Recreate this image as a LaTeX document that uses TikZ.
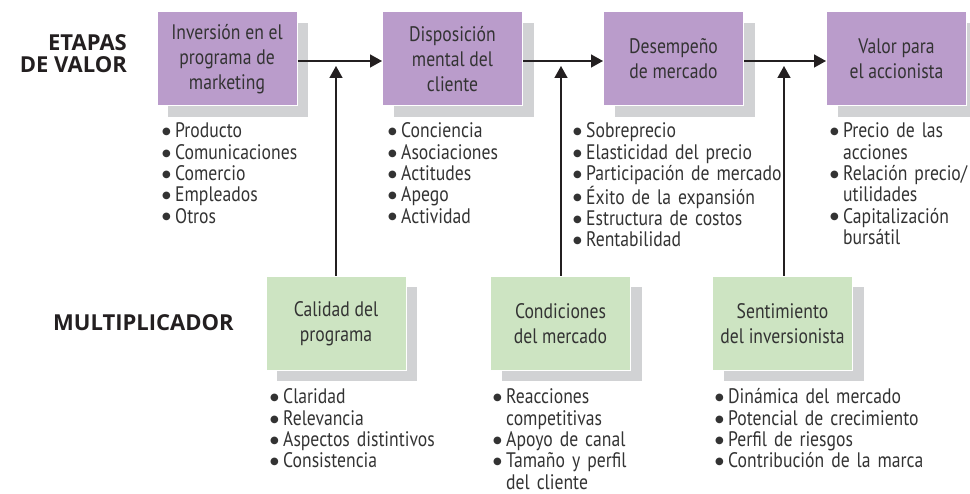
\documentclass[tikz,border=0pt]{standalone}
\usepackage{fontspec}
\setmainfont{PT Sans}[FakeStretch=0.84]
\newfontfamily\labfont{Open Sans}
\newfontfamily\dvfont{DejaVu Sans}
\usetikzlibrary{shadows,arrows.meta}
\definecolor{purp}{HTML}{BA9CCB}
\definecolor{grn}{HTML}{CDE4C2}
\definecolor{shd}{HTML}{D1D2D4}
\definecolor{txt}{HTML}{333333}
\definecolor{ink}{HTML}{231F20}
\newcommand{\bul}{\makebox[13pt][l]{\raisebox{3.2pt}{\dvfont\fontsize{10}{10}\selectfont ●}}}
\newcommand{\ind}{\hspace*{13pt}}
\tikzset{
  stagebox/.style={rectangle, minimum width=140pt, minimum height=94pt, draw=white, line width=1pt,
    general shadow={fill=shd, shadow xshift=11pt, shadow yshift=-11pt},
    align=center, text=txt, font=\fontsize{21}{25}\selectfont, inner sep=2pt},
  topbox/.style={stagebox, fill=purp},
  botbox/.style={stagebox, fill=grn},
  listtext/.style={anchor=base west, inner sep=0pt, text width=220pt, align=left, text=txt,
    font=\fontsize{21}{21.3}\selectfont},
  headlab/.style={text=ink, inner sep=0pt, font=\labfont\bfseries\fontsize{22}{22}\selectfont},
  arr/.style={draw=ink, line width=1.5pt, -{Triangle[length=12pt,width=13pt]}}
}
\begin{document}
\begin{tikzpicture}[x=1pt,y=-1pt]
\useasboundingbox[fill=white] (0,0) rectangle (970,494);
% header labels
\node[headlab, anchor=base east, align=right] (etapas) at (127,73) {ETAPAS\\DE VALOR};
\node[headlab, anchor=west] (mult) at (53,323) {MULTIPLICADOR};
% top boxes
\node[topbox] (b1) at (227,59) {Inversión en el\\programa de\\marketing};
\node[topbox] (b2) at (452.5,59) {Disposición\\mental del\\cliente};
\node[topbox] (b3) at (673.5,59) {Desempeño\\de mercado};
\node[topbox] (b4) at (896.5,59) {Valor para\\el accionista};
% bottom boxes
\node[botbox] (m1) at (336,323.5) {Calidad del\\programa};
\node[botbox] (m2) at (560.5,323.5) {Condiciones\\del mercado};
\node[botbox] (m3) at (782.5,323.5) {Sentimiento\\del inversionista};
% arrows
\draw[arr] ([yshift=-2pt]b1.east) -- ([yshift=-2pt]b2.west);
\draw[arr] ([yshift=-2pt]b2.east) -- ([yshift=-2pt]b3.west);
\draw[arr] ([yshift=-2pt]b3.east) -- ([yshift=-2pt]b4.west);
\coordinate (t1) at (336,66);
\coordinate (t2) at (561,66);
\coordinate (t3) at (784,66);
\draw[arr] (m1.north) -- (t1);
\draw[arr] ([xshift=0.5pt]m2.north) -- (t2);
\draw[arr] ([xshift=1.5pt]m3.north) -- (t3);
% lists
\node[listtext] (l1) at (162,138) {\bul Producto\\\bul Comunicaciones\\\bul Comercio\\\bul Empleados\\\bul Otros};
\node[listtext] (l2) at (388,138) {\bul Conciencia\\\bul Asociaciones\\\bul Actitudes\\\bul Apego\\\bul Actividad};
\node[listtext] (l3) at (573,138) {\bul Sobreprecio\\\bul Elasticidad del precio\\\bul Participación de mercado\\\bul Éxito de la expansión\\\bul Estructura de costos\\\bul Rentabilidad};
\node[listtext] (l4) at (830,138) {\bul Precio de las\\\ind acciones\\\bul Relación precio/\\\ind utilidades\\\bul Capitalización\\\ind bursátil};
\node[listtext] (l5) at (270,404) {\bul Claridad\\\bul Relevancia\\\bul Aspectos distintivos\\\bul Consistencia};
\node[listtext] (l6) at (493,404) {\bul Reacciones\\\ind competitivas\\\bul Apoyo de canal\\\bul Tamaño y perfil\\\ind del cliente};
\node[listtext] (l7) at (715,404) {\bul Dinámica del mercado\\\bul Potencial de crecimiento\\\bul Perfil de riesgos\\\bul Contribución de la marca};
\end{tikzpicture}
\end{document}
